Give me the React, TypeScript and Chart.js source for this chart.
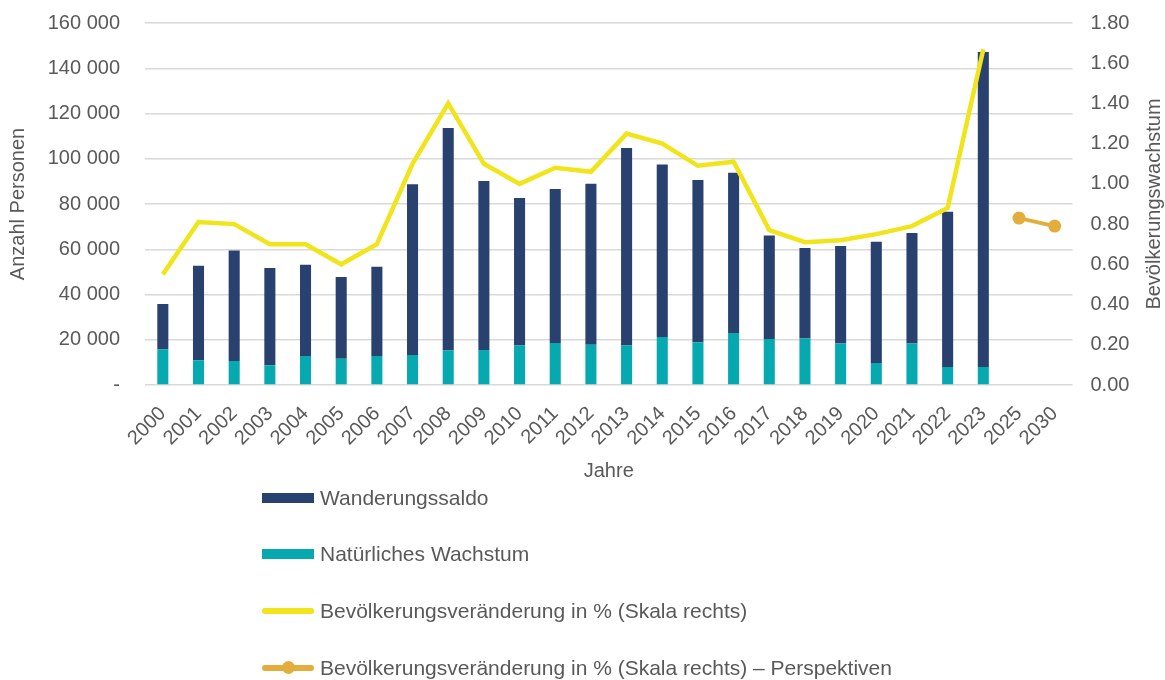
import React, { useEffect, useRef } from 'react';
import { Chart, registerables } from 'chart.js';

Chart.register(...registerables);

const years = [
  '2000', '2001', '2002', '2003', '2004', '2005', '2006', '2007', '2008', '2009',
  '2010', '2011', '2012', '2013', '2014', '2015', '2016', '2017', '2018', '2019',
  '2020', '2021', '2022', '2023', '2025', '2030',
];

const wanderungssaldo = [
  20000, 41800, 48800, 43000, 40400, 36100, 39500, 75400, 98300, 74700,
  65200, 68000, 71200, 87300, 76300, 71700, 70800, 45800, 40000, 43100,
  53600, 48900, 68600, 139200, null, null,
];

const natuerlichesWachstum = [
  15800, 10900, 10600, 8700, 12800, 11600, 12800, 13300, 15300, 15500,
  17500, 18600, 17800, 17500, 21200, 18900, 23000, 20300, 20600, 18300,
  9700, 18300, 8000, 8000, null, null,
];

const bevoelkerungsveraenderung = [
  0.55, 0.81, 0.80, 0.70, 0.70, 0.60, 0.70, 1.10, 1.40, 1.10,
  1.00, 1.08, 1.06, 1.25, 1.20, 1.09, 1.11, 0.77, 0.71, 0.72,
  0.75, 0.79, 0.88, 1.67, null, null,
];

const perspektiven = [
  null, null, null, null, null, null, null, null, null, null,
  null, null, null, null, null, null, null, null, null, null,
  null, null, null, null, 0.83, 0.79,
];

const legendLabels = [
  'Wanderungssaldo',
  'Natürliches Wachstum',
  'Bevölkerungsveränderung in % (Skala rechts)',
  'Bevölkerungsveränderung in % (Skala rechts) – Perspektiven',
];

const leftAxisTitle = 'Anzahl Personen';
const rightAxisTitle = 'Bevölkerungswachstum';
const xAxisTitle = 'Jahre';

const NAVY = '#29416f';
const TEAL = '#06a9b0';
const YELLOW = '#f0e41a';
const ORANGE = '#e2ad3b';
const TEXT = '#595959';
const GRID = '#d9d9d9';
const FONT = '"Liberation Sans", Arial, sans-serif';

function formatThousands(v: number): string {
  if (v === 0) return '-';
  const s = Math.round(v).toString();
  return s.replace(/\B(?=(\d{3})+(?!\d))/g, ' ');
}

const rightTitlePlugin = {
  id: 'rightTitle',
  afterDraw(chart: any) {
    const { ctx, chartArea } = chart;
    ctx.save();
    ctx.translate(1154, (chartArea.top + chartArea.bottom) / 2);
    ctx.rotate(-Math.PI / 2);
    ctx.textAlign = 'center';
    ctx.textBaseline = 'middle';
    ctx.fillStyle = TEXT;
    ctx.font = `20px ${FONT}`;
    ctx.fillText(rightAxisTitle, 0, 0);
    ctx.restore();
  },
};

export default function App() {
  const canvasRef = useRef<HTMLCanvasElement | null>(null);

  useEffect(() => {
    document.body.style.margin = '0';
    const ctx = canvasRef.current;
    if (!ctx) return;
    const chart = new Chart(ctx, {
      type: 'bar',
      data: {
        labels: years,
        datasets: [
          {
            type: 'line',
            label: legendLabels[2],
            data: bevoelkerungsveraenderung,
            yAxisID: 'y1',
            borderColor: YELLOW,
            backgroundColor: YELLOW,
            borderWidth: 4.5,
            pointRadius: 0,
            tension: 0,
            spanGaps: false,
            order: 0,
          } as any,
          {
            type: 'line',
            label: legendLabels[3],
            data: perspektiven,
            yAxisID: 'y1',
            borderColor: ORANGE,
            backgroundColor: ORANGE,
            borderWidth: 4,
            pointRadius: 6.5,
            pointBackgroundColor: ORANGE,
            pointBorderColor: ORANGE,
            pointBorderWidth: 0,
            tension: 0,
            order: 0,
          } as any,
          {
            type: 'bar',
            label: legendLabels[1],
            data: natuerlichesWachstum,
            yAxisID: 'y',
            backgroundColor: TEAL,
            stack: 's',
            barPercentage: 0.31,
            categoryPercentage: 1,
            order: 1,
          },
          {
            type: 'bar',
            label: legendLabels[0],
            data: wanderungssaldo,
            yAxisID: 'y',
            backgroundColor: NAVY,
            stack: 's',
            barPercentage: 0.31,
            categoryPercentage: 1,
            order: 1,
          },
        ],
      },
      options: {
        animation: false,
        responsive: false,
        maintainAspectRatio: false,
        layout: { padding: { left: 0, right: 0, top: 23, bottom: 193 } },
        plugins: {
          legend: { display: false },
          tooltip: { enabled: false },
        },
        scales: {
          x: {
            stacked: true,
            grid: { display: false },
            border: { display: false },
            ticks: {
              autoSkip: false,
              maxRotation: 45,
              minRotation: 45,
              color: TEXT,
              font: { family: FONT, size: 20 },
              padding: 9,
            },
            title: {
              display: true,
              text: xAxisTitle,
              color: TEXT,
              font: { family: FONT, size: 20 },
              padding: { top: 4, bottom: 4 },
            },
            afterFit: (scale: any) => {
              scale.height = 102;
            },
          },
          y: {
            position: 'left',
            stacked: true,
            min: 0,
            max: 160000,
            grid: {
              color: GRID,
              lineWidth: 1.5,
              drawTicks: true,
              tickLength: 25,
              tickColor: 'rgba(0,0,0,0)',
            },
            border: { display: false },
            ticks: {
              stepSize: 20000,
              color: TEXT,
              font: { family: FONT, size: 20 },
              padding: 0,
              callback: (v: any) => formatThousands(Number(v)),
            },
            title: {
              display: true,
              text: leftAxisTitle,
              color: TEXT,
              font: { family: FONT, size: 20 },
              padding: { top: 6, bottom: 0 },
            },
            afterFit: (scale: any) => {
              scale.width = 145;
            },
          },
          y1: {
            position: 'right',
            min: 0,
            max: 1.8,
            grid: {
              display: true,
              drawOnChartArea: false,
              drawTicks: true,
              tickLength: 18,
              tickColor: 'rgba(0,0,0,0)',
              color: 'rgba(0,0,0,0)',
            },
            border: { display: false },
            ticks: {
              stepSize: 0.2,
              color: TEXT,
              font: { family: FONT, size: 20 },
              padding: 0,
              callback: (v: any) => Number(v).toFixed(2),
            },
            title: { display: false },
            afterFit: (scale: any) => {
              scale.width = 92.5;
            },
          },
        },
      } as any,
      plugins: [rightTitlePlugin],
    });
    return () => chart.destroy();
  }, []);

  const rowTops = [497.7, 554, 611, 667.7];

  const swatch = (i: number) => {
    if (i === 0 || i === 1) {
      return (
        <div style={{ position: 'absolute', left: 0, top: -5, width: 52, height: 10, background: i === 0 ? NAVY : TEAL }} />
      );
    }
    const color = i === 2 ? YELLOW : ORANGE;
    return (
      <>
        <div style={{ position: 'absolute', left: 0, top: -3, width: 52, height: 6, borderRadius: 3, background: color }} />
        {i === 3 && (
          <div style={{ position: 'absolute', left: 20, top: -6.5, width: 13, height: 13, borderRadius: '50%', background: color }} />
        )}
      </>
    );
  };

  return (
    <div style={{ position: 'absolute', left: 0, top: 0, width: 1165, height: 680, background: '#fff', overflow: 'hidden' }}>
      <canvas ref={canvasRef} width={1165} height={680} style={{ position: 'absolute', left: 0, top: 0, width: 1165, height: 680 }} />
      {legendLabels.map((label, i) => (
        <div key={label} style={{ position: 'absolute', left: 262, top: rowTops[i], height: 0 }}>
          {swatch(i)}
          <span
            style={{
              position: 'absolute',
              left: 58,
              top: -12,
              lineHeight: '24px',
              whiteSpace: 'nowrap',
              fontFamily: FONT,
              fontSize: 21,
              color: TEXT,
            }}
          >
            {label}
          </span>
        </div>
      ))}
    </div>
  );
}
